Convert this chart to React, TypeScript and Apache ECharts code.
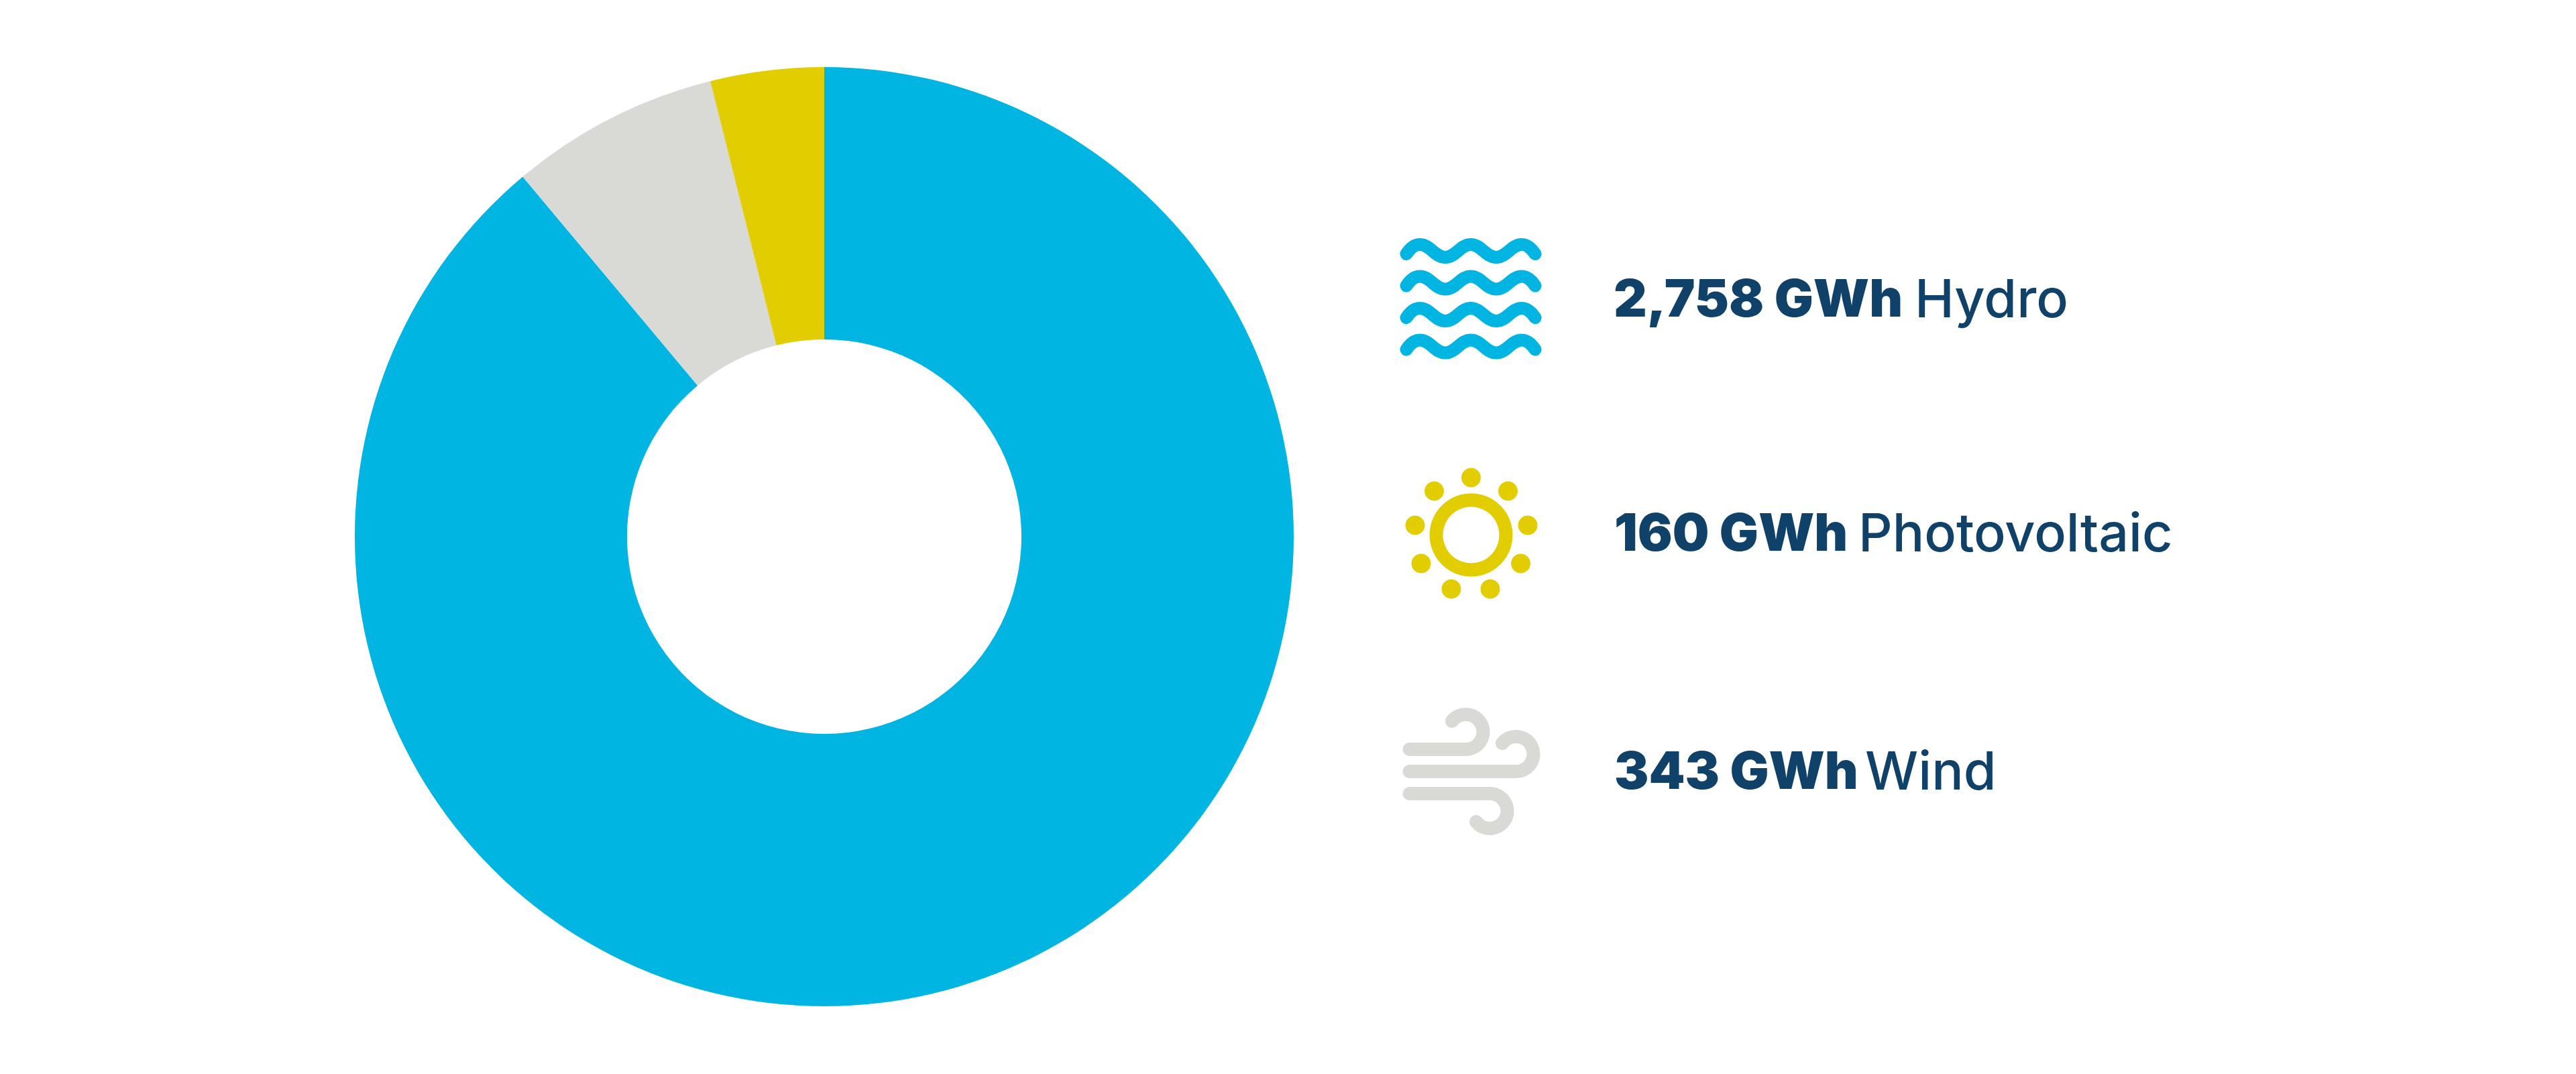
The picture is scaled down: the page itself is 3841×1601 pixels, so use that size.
import React, { useEffect, useRef } from "react";
import * as echarts from "echarts";

// Slice order runs clockwise from 12 o'clock, as in the picture.
const categories = ["Hydro", "Wind", "Photovoltaic"];
// Shares (%) measured from the drawn arcs (about 320 / 26 / 14 degrees). They differ from
// what the printed GWh labels would give; the reference's own geometry is what is kept here.
const sliceShares = [88.9, 7.2, 3.9];
const sliceColors = ["#00B5E2", "#D9D9D6", "#E1CD00"];

const legendNames = ["Hydro", "Photovoltaic", "Wind"];
const legendValues = ["2,758 GWh", "160 GWh", "343 GWh"];

const NAVY = "#0F4169";
const BOLD_FONT = "Inter";
const LIGHT_FONT = "Inter";
const WAVE = "M -96 14 C -90 5 -84 0 -76 0 C -60 0 -54 19 -38 19 C -22 19 -16 0 0 0 C 16 0 22 19 38 19 C 54 19 60 0 76 0 C 84 0 90 5 96 14";

function legendText(i: number, boldX: number, nameX: number, y: number, boldSize: number, nameSize: number) {
  return [
    {
      type: "text",
      silent: true,
      style: {
        x: boldX, y, text: legendValues[i], fill: NAVY,
        fontFamily: BOLD_FONT, fontWeight: 900, fontSize: boldSize,
        textAlign: "left", textVerticalAlign: "middle",
      },
    },
    {
      type: "text",
      silent: true,
      style: {
        x: nameX, y, text: legendNames[i], fill: NAVY,
        fontFamily: LIGHT_FONT, fontWeight: 500, fontSize: nameSize,
        textAlign: "left", textVerticalAlign: "middle",
      },
    },
  ];
}

export default function App() {
  const ref = useRef<HTMLDivElement>(null);
  useEffect(() => {
    document.body.style.margin = "0";
    const g: any = echarts.graphic;
    g.registerShape("wave", g.extendPath(WAVE, {}));
    g.registerShape("windA", g.extendPath("M 2101.5 1117 L 2185 1117 A 26 26 0 1 0 2165 1075", {}));
    g.registerShape("windB", g.extendPath("M 2101.5 1150 L 2259.5 1150 A 26 26 0 1 0 2240 1108", {}));
    g.registerShape("windC", g.extendPath("M 2101.5 1183 L 2221 1183 A 26 26 0 1 1 2201 1225", {}));

    const chart = echarts.init(ref.current!, undefined, { renderer: "svg" });

    const waveStyle = { fill: "none", stroke: sliceColors[0], lineWidth: 19, lineCap: "round", lineJoin: "round" };
    const waves = [364.5, 412, 459.5, 507].map((y) => ({
      type: "wave", x: 2193, y, silent: true, style: waveStyle,
    }));

    const sunDots = [
      [2193.5, 712], [2138.5, 732], [2248.5, 732], [2110, 783], [2278, 783],
      [2119, 840], [2267.5, 840], [2164, 878], [2222, 878],
    ].map(([cx, cy]) => ({
      type: "circle", silent: true, shape: { cx, cy, r: 14.5 }, style: { fill: sliceColors[2] },
    }));
    const sunRing = {
      type: "ring", silent: true, shape: { cx: 2193.5, cy: 797.5, r: 62, r0: 42 }, style: { fill: sliceColors[2] },
    };

    const windStyle = { fill: "none", stroke: sliceColors[1], lineWidth: 20, lineCap: "round", lineJoin: "round" };
    const wind = ["windA", "windB", "windC"].map((type) => ({ type, silent: true, style: windStyle }));

    chart.setOption({
      animation: false,
      backgroundColor: "#FFFFFF",
      series: [
        {
          type: "pie",
          center: [1229, 800],
          radius: [294, 700],
          startAngle: 90,
          clockwise: true,
          silent: true,
          label: { show: false },
          labelLine: { show: false },
          emphasis: { disabled: true },
          data: categories.map((name, i) => ({
            name,
            value: sliceShares[i],
            itemStyle: { color: sliceColors[i] },
          })),
        },
      ],
      graphic: {
        elements: [
          ...waves,
          sunRing,
          ...sunDots,
          ...wind,
          ...legendText(0, 2406, 2855, 443.5, 77, 79),
          ...legendText(1, 2407, 2771, 793, 77, 79),
          ...legendText(2, 2407, 2781, 1147.5, 77, 79),
        ],
      },
    });
    return () => chart.dispose();
  }, []);
  return <div ref={ref} style={{ position: "absolute", left: 0, top: 0, width: 3841, height: 1601 }} />;
}
